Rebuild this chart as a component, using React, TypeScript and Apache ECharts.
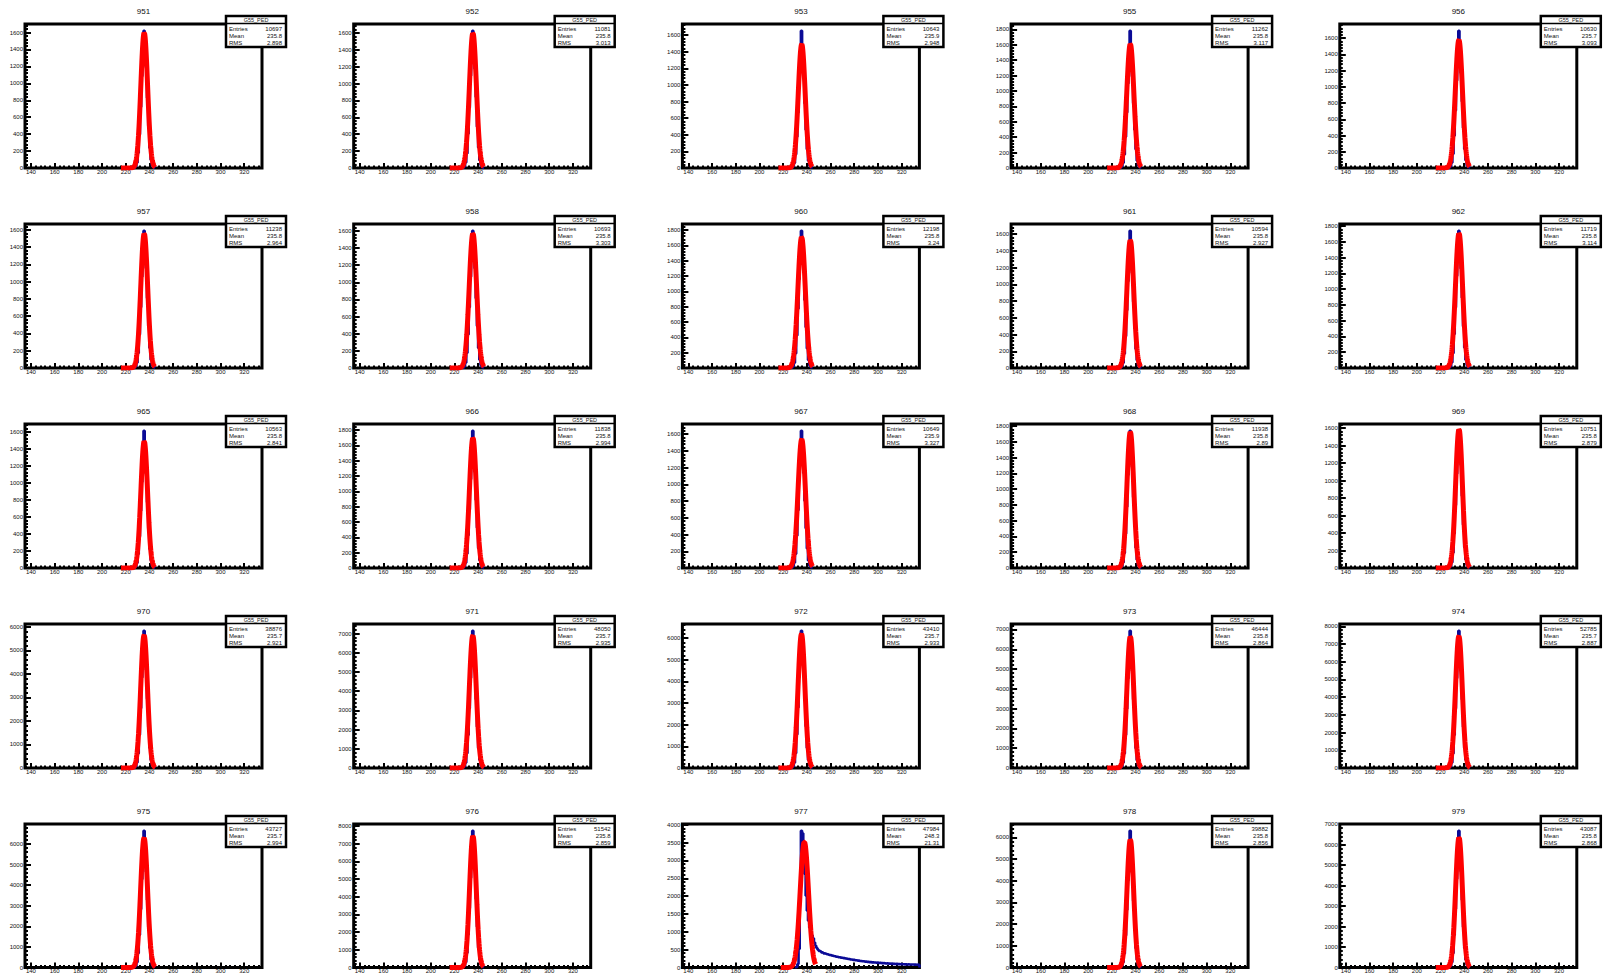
import React, { useEffect, useRef } from "react";
import * as echarts from "echarts";

// ---------------- data ----------------
const channels = ["951", "952", "953", "955", "956", "957", "958", "960", "961", "962", "965", "966", "967", "968", "969", "970", "971", "972", "973", "974", "975", "976", "977", "978", "979"];
const statsTitle = "G55_PED";
const entries = [10697, 11081, 10643, 11262, 10630, 11238, 10693, 12198, 10594, 11719, 10563, 11838, 10649, 11938, 10751, 38876, 48050, 43410, 46444, 52785, 43727, 51542, 47984, 39882, 43087];
const means = [235.8, 235.8, 235.9, 235.8, 235.7, 235.8, 235.8, 235.8, 235.8, 235.8, 235.8, 235.8, 235.9, 235.8, 235.8, 235.7, 235.7, 235.7, 235.8, 235.7, 235.7, 235.8, 248.3, 235.8, 235.8];
const rmsValues = [2.898, 3.013, 2.948, 3.117, 3.093, 2.964, 3.303, 3.24, 2.927, 3.114, 2.841, 2.994, 3.327, 2.89, 2.879, 2.921, 2.935, 2.933, 2.864, 2.887, 2.994, 2.859, 21.31, 2.856, 2.868];

// y label step per panel
const yLabelSteps = [200, 200, 200, 200, 200, 200, 200, 200, 200, 200, 200, 200, 200, 200, 200, 1000, 1000, 1000, 1000, 1000, 1000, 1000, 500, 1000, 1000];

// x axis range and tick labels
const xRange = [135, 335];
const xTickLabels = [140, 160, 180, 200, 220, 240, 260, 280, 300, 320];

// histogram: first bin lower edge and bin counts (1 ADC wide bins)
const binStarts = [227, 227, 227, 227, 227, 227, 227, 227, 227, 227, 227, 227, 227, 227, 227, 227, 227, 227, 227, 227, 227, 227, 230, 227, 227];
const h951 = [5, 20, 62, 179, 397, 722, 1085, 1411, 1620, 1437, 1189, 828, 499, 236, 98, 31, 9, 3];
const h952 = [4, 18, 66, 172, 405, 716, 1092, 1402, 1625, 1446, 1176, 840, 490, 244, 93, 34, 11, 2];
const h953 = [4, 17, 61, 162, 375, 668, 1016, 1308, 1650, 1344, 1099, 778, 459, 227, 87, 31, 9, 3];
const h955 = [5, 19, 66, 175, 404, 721, 1098, 1414, 1780, 1452, 1188, 840, 497, 243, 95, 33, 10, 3];
const h956 = [5, 18, 64, 172, 397, 709, 1077, 1388, 1690, 1420, 1172, 819, 492, 235, 96, 31, 10, 3];
const h957 = [5, 19, 61, 173, 388, 704, 1058, 1375, 1590, 1401, 1157, 809, 486, 232, 95, 30, 9, 3];
const h958 = [4, 19, 62, 175, 391, 709, 1065, 1384, 1600, 1410, 1165, 814, 489, 234, 95, 32, 9, 3];
const h960 = [5, 21, 67, 190, 425, 772, 1160, 1507, 1790, 1536, 1268, 886, 532, 255, 104, 35, 10, 3];
const h961 = [5, 18, 60, 170, 381, 691, 1037, 1349, 1640, 1374, 1135, 793, 476, 228, 93, 30, 9, 3];
const h962 = [5, 20, 69, 187, 430, 768, 1166, 1502, 1740, 1541, 1262, 892, 528, 259, 101, 34, 11, 3];
const h965 = [4, 18, 59, 165, 371, 672, 1010, 1313, 1610, 1338, 1106, 772, 464, 222, 90, 29, 9, 3];
const h966 = [5, 20, 68, 186, 427, 763, 1158, 1494, 1790, 1533, 1255, 887, 525, 257, 101, 35, 10, 3];
const h967 = [5, 18, 62, 168, 387, 690, 1050, 1352, 1640, 1389, 1137, 803, 475, 233, 91, 31, 9, 3];
const h968 = [5, 21, 70, 189, 435, 776, 1179, 1520, 1740, 1555, 1283, 897, 538, 258, 105, 34, 10, 4];
const h969 = [5, 19, 63, 176, 396, 718, 1078, 1402, 1570, 1428, 1180, 824, 495, 237, 96, 31, 10, 3];
const h970 = [17, 66, 229, 618, 1416, 2539, 3847, 4968, 5830, 5091, 4176, 2942, 1748, 851, 336, 115, 33, 11];
const h971 = [21, 84, 273, 762, 1721, 3109, 4688, 6075, 7140, 6205, 5110, 3584, 2142, 1031, 417, 136, 42, 14];
const h972 = [19, 75, 246, 685, 1547, 2794, 4212, 5460, 6340, 5576, 4592, 3220, 1925, 927, 374, 123, 38, 12];
const h973 = [20, 79, 268, 729, 1666, 2989, 4526, 5849, 6930, 5988, 4917, 3462, 2059, 1001, 397, 134, 40, 13];
const h974 = [22, 90, 296, 823, 1860, 3357, 5062, 6559, 7740, 6701, 5517, 3870, 2313, 1115, 449, 148, 45, 15];
const h975 = [19, 75, 254, 690, 1578, 2831, 4288, 5541, 6640, 5674, 4658, 3279, 1950, 948, 376, 127, 37, 13];
const h976 = [23, 88, 299, 818, 1866, 3350, 5069, 6553, 7730, 6708, 5510, 3877, 2307, 1120, 445, 150, 44, 15];
const h977 = [4, 18, 95, 520, 2250, 3830, 3760, 3380, 2620, 2010, 1590, 1310, 1120, 990, 900, 820, 700, 610, 545, 500,
  465, 450, 425, 416, 395, 392, 373, 370, 351, 352, 336, 332, 320, 315, 303, 300, 289, 286, 276, 274,
  264, 262, 251, 249, 238, 237, 225, 226, 214, 214, 204, 204, 192, 193, 183, 183, 174, 175, 166, 167,
  158, 159, 150, 152, 144, 147, 139, 142, 133, 137, 128, 131, 123, 127, 118, 122, 114, 118, 109, 114,
  105, 110, 101, 106, 98, 102, 95, 99, 92, 96, 90, 93, 88, 91, 86, 88, 84, 86, 82, 84, 80, 82, 79, 80, 78];
const h978 = [18, 70, 238, 646, 1478, 2652, 4015, 5189, 6300, 5313, 4362, 3071, 1826, 887, 352, 119, 35, 12];
const h979 = [19, 77, 252, 701, 1585, 2861, 4315, 5591, 6670, 5712, 4703, 3299, 1972, 950, 383, 126, 38, 13];
const binCounts = [h951, h952, h953, h955, h956, h957, h958, h960, h961, h962, h965, h966, h967, h968, h969, h970, h971, h972, h973, h974, h975, h976, h977, h978, h979];

// gaussian fit parameters (constant, mean, sigma) and fit range
const fitConstants = [1600, 1600, 1490, 1610, 1580, 1560, 1570, 1710, 1530, 1710, 1490, 1700, 1540, 1730, 1590, 5650, 6900, 6200, 6650, 7450, 6300, 7450, 3520, 5900, 6350];
const fitMeans = [235.6, 235.6, 235.7, 235.6, 235.5, 235.6, 235.6, 235.6, 235.6, 235.6, 235.6, 235.6, 235.7, 235.6, 235.6, 235.5, 235.5, 235.5, 235.6, 235.5, 235.5, 235.6, 237.9, 235.6, 235.6];
const fitSigmas = [2.85, 2.95, 2.9, 3.0, 3.0, 2.9, 3.1, 3.1, 2.9, 3.0, 2.8, 2.9, 3.1, 2.85, 2.85, 2.85, 2.9, 2.9, 2.85, 2.85, 2.9, 2.8, 3.5, 2.8, 2.85];
const fitLows = [216, 216, 216, 216, 216, 216, 216, 216, 216, 216, 216, 216, 216, 216, 216, 216, 216, 216, 216, 216, 216, 216, 218, 216, 216];
const fitHighs = [245, 245, 245, 245, 245, 245, 245, 245, 245, 245, 245, 245, 245, 245, 245, 245, 245, 245, 245, 245, 245, 245, 247.5, 245, 245];

// ---------------- layout ----------------
const FONT = "'Liberation Sans', Arial, Helvetica, sans-serif";
const FRAME_W = 237;
const FRAME_H = 144;
const COL_STEP = 328.7;
const ROW_STEP = 200;
const FIRST_LEFT = 25;
const FIRST_TOP = 24;
const HIST_COLOR = "#0a0a96";
const FIT_COLOR = "#ff0000";

function buildOption() {
  const grid: any[] = [];
  const xAxis: any[] = [];
  const yAxis: any[] = [];
  const series: any[] = [];
  const graphic: any[] = [];

  const xMinor: number[] = [];
  for (let v = 136; v <= xRange[1]; v += 4) if (v % 20 !== 0) xMinor.push(v);

  channels.forEach((ch, i) => {
    const r = Math.floor(i / 5);
    const c = i % 5;
    const left = FIRST_LEFT + COL_STEP * c;
    const top = FIRST_TOP + ROW_STEP * r;
    grid.push({
      left, top, width: FRAME_W, height: FRAME_H,
      show: true, borderColor: "#000", borderWidth: 3, backgroundColor: "rgba(0,0,0,0)",
    });

    const counts = binCounts[i];
    const start = binStarts[i];
    const peak = Math.max(...counts);
    const ymax = peak * 1.05;
    const step = yLabelSteps[i];
    const yMajor: number[] = [];
    for (let v = 0; v <= ymax; v += step) yMajor.push(v);
    const yMinor: number[] = [];
    const mstep = step / 5;
    for (let k = 1; k * mstep <= ymax; k++) if (k % 5 !== 0) yMinor.push(k * mstep);

    const tickStyle = { color: "#000", width: 2 };
    const xa = 2 * i;
    xAxis.push({
      type: "value", gridIndex: i, min: xRange[0], max: xRange[1], position: "bottom",
      axisLine: { show: false }, splitLine: { show: false },
      axisTick: { show: true, inside: true, length: 5, lineStyle: tickStyle, customValues: xTickLabels },
      axisLabel: { customValues: xTickLabels, fontSize: 6, margin: 0.5, color: "#111", fontFamily: FONT, formatter: (v: number) => String(v) },
    });
    xAxis.push({
      type: "value", gridIndex: i, min: xRange[0], max: xRange[1], position: "bottom",
      axisLine: { show: false }, splitLine: { show: false },
      axisTick: { show: true, inside: true, length: 2.5, lineStyle: tickStyle, customValues: xMinor },
      axisLabel: { show: false },
    });
    yAxis.push({
      type: "value", gridIndex: i, min: 0, max: ymax, position: "left",
      axisLine: { show: false }, splitLine: { show: false },
      axisTick: { show: true, inside: true, length: 6, lineStyle: tickStyle, customValues: yMajor },
      axisLabel: { customValues: yMajor, fontSize: 6, margin: 2, color: "#111", fontFamily: FONT, formatter: (v: number) => String(v) },
    });
    yAxis.push({
      type: "value", gridIndex: i, min: 0, max: ymax, position: "left",
      axisLine: { show: false }, splitLine: { show: false },
      axisTick: { show: true, inside: true, length: 3, lineStyle: tickStyle, customValues: yMinor },
      axisLabel: { show: false },
    });

    // histogram outline
    const outline: number[][] = [[start, 0]];
    counts.forEach((v, k) => {
      outline.push([start + k, v], [start + k + 1, v]);
    });
    outline.push([start + counts.length, 0]);
    series.push({
      type: "line", xAxisIndex: xa, yAxisIndex: xa, data: outline, symbol: "none",
      lineStyle: { color: HIST_COLOR, width: 2.6 }, z: 3, silent: true,
    });

    // gaussian fit curve
    const A = fitConstants[i], mu = fitMeans[i], s = fitSigmas[i];
    const fit: number[][] = [];
    for (let x = fitLows[i]; x <= fitHighs[i] + 1e-9; x += 0.2) {
      fit.push([x, A * Math.exp(-0.5 * ((x - mu) / s) ** 2)]);
    }
    series.push({
      type: "line", xAxisIndex: xa, yAxisIndex: xa, data: fit, symbol: "none",
      lineStyle: { color: FIT_COLOR, width: 5 }, z: 4, silent: true,
    });

    // title
    graphic.push({
      type: "text", x: left + FRAME_W / 2, y: top - 13, z: 100,
      style: { text: ch, fill: "#111", font: `8px ${FONT}`, align: "center", verticalAlign: "middle" },
    });

    // stats box
    const bx = left + FRAME_W - 36;
    const by = top - 8;
    graphic.push({
      type: "group", z: 100,
      children: [
        { type: "rect", shape: { x: bx, y: by, width: 60, height: 31 }, style: { fill: "#fff", stroke: "#000", lineWidth: 2.5 }, z: 100 },
        { type: "line", shape: { x1: bx, y1: by + 7.5, x2: bx + 60, y2: by + 7.5 }, style: { stroke: "#000", lineWidth: 1.5 }, z: 101 },
        { type: "text", x: bx + 30, y: by + 4, z: 101, style: { text: statsTitle, fill: "#222", font: `5.5px ${FONT}`, align: "center", verticalAlign: "middle" } },
        { type: "text", x: bx + 3, y: by + 13, z: 101, style: { text: "Entries", fill: "#111", font: `6px ${FONT}`, align: "left", verticalAlign: "middle" } },
        { type: "text", x: bx + 56, y: by + 13, z: 101, style: { text: String(entries[i]), fill: "#111", font: `6px ${FONT}`, align: "right", verticalAlign: "middle" } },
        { type: "text", x: bx + 3, y: by + 19.7, z: 101, style: { text: "Mean", fill: "#111", font: `6px ${FONT}`, align: "left", verticalAlign: "middle" } },
        { type: "text", x: bx + 56, y: by + 19.7, z: 101, style: { text: means[i].toFixed(1), fill: "#111", font: `6px ${FONT}`, align: "right", verticalAlign: "middle" } },
        { type: "text", x: bx + 3, y: by + 26.5, z: 101, style: { text: "RMS", fill: "#111", font: `6px ${FONT}`, align: "left", verticalAlign: "middle" } },
        { type: "text", x: bx + 56, y: by + 26.5, z: 101, style: { text: String(rmsValues[i]), fill: "#111", font: `6px ${FONT}`, align: "right", verticalAlign: "middle" } },
      ],
    });
  });

  return {
    animation: false,
    backgroundColor: "#fff",
    grid, xAxis, yAxis, series, graphic,
  };
}

export default function App() {
  const ref = useRef<HTMLDivElement>(null);
  useEffect(() => {
    if (!ref.current) return;
    const chart = echarts.init(ref.current, undefined, { renderer: "svg" });
    chart.setOption(buildOption() as any);
    return () => chart.dispose();
  }, []);
  return (
    <div
      ref={ref}
      style={{ position: "absolute", left: 0, top: 0, width: 1604, height: 974, background: "#fff" }}
    />
  );
}
